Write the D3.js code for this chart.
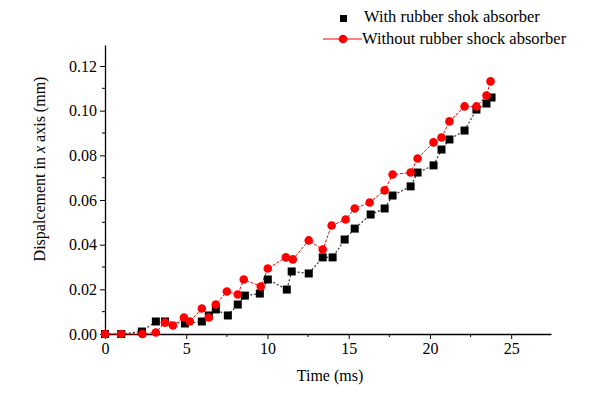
<!DOCTYPE html>
<html>
<head>
<meta charset="utf-8">
<script src="https://cdn.jsdelivr.net/npm/d3@7"></script>
<style>
    body { margin: 0; background: #fff; }
    svg text { font-family: "Times New Roman", Times, "Liberation Serif", "DejaVu Serif", serif; fill: #000; }
</style>
</head>
<body>
<div id="chart"></div>
<script>
// Series: time (ms) and displacement (mm).
const withTime = [0.0, 1.0, 2.27, 3.13, 3.69, 4.92, 5.96, 6.39, 6.82, 7.56, 8.17, 8.61, 9.53, 10.02, 11.19, 11.49, 12.54, 13.40, 14.01, 14.75, 15.37, 16.35, 17.21, 17.70, 18.81, 19.24, 20.22, 20.71, 21.20, 22.13, 22.86, 23.48, 23.79];
const withDisp = [0, 0, 0.0011, 0.0056, 0.0056, 0.0047, 0.0056, 0.0083, 0.0110, 0.0083, 0.0132, 0.0172, 0.0181, 0.0244, 0.0199, 0.0280, 0.0271, 0.0343, 0.0343, 0.0423, 0.0472, 0.0535, 0.0562, 0.0620, 0.0661, 0.0723, 0.0755, 0.0826, 0.0871, 0.0911, 0.1005, 0.1032, 0.1059];

const withoutTime = [0.0, 1.0, 2.3, 3.13, 3.69, 4.18, 4.86, 5.22, 5.96, 6.39, 6.82, 7.50, 8.17, 8.54, 9.59, 10.02, 11.13, 11.56, 12.54, 13.40, 13.95, 14.81, 15.37, 16.29, 17.21, 17.70, 18.81, 19.24, 20.22, 20.71, 21.20, 22.13, 22.86, 23.48, 23.73];
const withoutDisp = [0, 0, 0, 0.0007, 0.0051, 0.0038, 0.0074, 0.0056, 0.0114, 0.0074, 0.0132, 0.0190, 0.0177, 0.0244, 0.0213, 0.0293, 0.0343, 0.0334, 0.0419, 0.0378, 0.0486, 0.0513, 0.0562, 0.0589, 0.0643, 0.0714, 0.0723, 0.0786, 0.0858, 0.0880, 0.0952, 0.1019, 0.1019, 0.1068, 0.1131];

const xTicks = [0, 5, 10, 15, 20, 25];
const yTicks = [0, 0.02, 0.04, 0.06, 0.08, 0.10, 0.12];
const legendLabels = ["With rubber shok absorber", "Without rubber shock absorber"];

const width = 597, height = 396;
const margin = { left: 105, right: 46, top: 45, bottom: 62 };
const serif = '"Times New Roman", Times, "Liberation Serif", "DejaVu Serif", serif';

var svg = d3.select("#chart").append("svg")
    .attr("width", width)
    .attr("height", height);

// Scales
var x = d3.scaleLinear().domain([0, 27.45]).range([margin.left, width - margin.right]);
var y = d3.scaleLinear().domain([0, 0.1294]).range([height - margin.bottom, margin.top]);

// Minor ticks every 2.5 ms and 0.01 mm
var xMinor = d3.range(2.5, 27.45, 5);
var yMinor = d3.range(0.01, 0.13, 0.02);

var gx = svg.append("g").attr("transform", `translate(0,${y(0)})`);
gx.call(d3.axisBottom(x).tickValues(xTicks).tickSize(5).tickSizeOuter(0).tickPadding(4).tickFormat(d3.format("d")));
gx.append("g").selectAll("line").data(xMinor).join("line")
    .attr("x1", d => x(d)).attr("x2", d => x(d))
    .attr("y1", 0).attr("y2", 3)
    .attr("stroke", "#000");

var gy = svg.append("g").attr("transform", `translate(${x(0)},0)`);
gy.call(d3.axisLeft(y).tickValues(yTicks).tickSize(5).tickSizeOuter(0).tickPadding(3).tickFormat(d3.format(".2f")));
gy.append("g").selectAll("line").data(yMinor).join("line")
    .attr("y1", d => y(d)).attr("y2", d => y(d))
    .attr("x1", 0).attr("x2", -3)
    .attr("stroke", "#000");

// d3 puts font-family on the axis group, override it
gx.attr("font-family", serif).attr("font-size", 16);
gy.attr("font-family", serif).attr("font-size", 16);
svg.selectAll(".domain").attr("stroke", "#000").attr("stroke-width", 1.3);
svg.selectAll(".tick line").attr("stroke", "#000");

// Axis titles
svg.append("text")
    .attr("x", 330).attr("y", 381)
    .attr("text-anchor", "middle")
    .style("font-size", "16px")
    .text("Time (ms)");

var ylab = svg.append("text")
    .attr("transform", "translate(45,169) rotate(-90)")
    .attr("text-anchor", "middle")
    .style("font-size", "16px");
ylab.append("tspan").text("Dispalcement in ");
ylab.append("tspan").style("font-style", "italic").text("x");
ylab.append("tspan").text(" axis (mm)");

var line = d3.line().x(d => x(d[0])).y(d => y(d[1]));

var withData = d3.zip(withTime, withDisp);
var withoutData = d3.zip(withoutTime, withoutDisp);

// Black series: dashed connector with square markers
svg.append("path")
    .datum(withData)
    .attr("d", line)
    .attr("fill", "none")
    .attr("stroke", "#333")
    .attr("stroke-width", 1.2)
    .attr("stroke-dasharray", "2,2");

// Red series: thin line with circle markers
svg.append("path")
    .datum(withoutData)
    .attr("d", line)
    .attr("fill", "none")
    .attr("stroke", "#f00")
    .attr("stroke-width", 1)
    .attr("stroke-dasharray", "3,1.5");

svg.append("g").selectAll("rect").data(withData).join("rect")
    .attr("x", d => x(d[0]) - 4)
    .attr("y", d => y(d[1]) - 4)
    .attr("width", 8).attr("height", 8)
    .attr("fill", "#000");

svg.append("g").selectAll("circle").data(withoutData).join("circle")
    .attr("cx", d => x(d[0]))
    .attr("cy", d => y(d[1]))
    .attr("r", 4.3)
    .attr("fill", "#f00");

// Legend
var legend = svg.append("g");
legend.append("rect").attr("x", 340).attr("y", 15).attr("width", 7).attr("height", 7).attr("fill", "#000");
legend.append("text").attr("x", 364).attr("y", 22).style("font-size", "16.5px").text(legendLabels[0]);
legend.append("line").attr("x1", 323).attr("x2", 362).attr("y1", 39).attr("y2", 39).attr("stroke", "#f00").attr("stroke-width", 1);
legend.append("circle").attr("cx", 343).attr("cy", 39).attr("r", 4.3).attr("fill", "#f00");
legend.append("text").attr("x", 362).attr("y", 44).style("font-size", "16.5px").text(legendLabels[1]);
</script>
</body>
</html>
